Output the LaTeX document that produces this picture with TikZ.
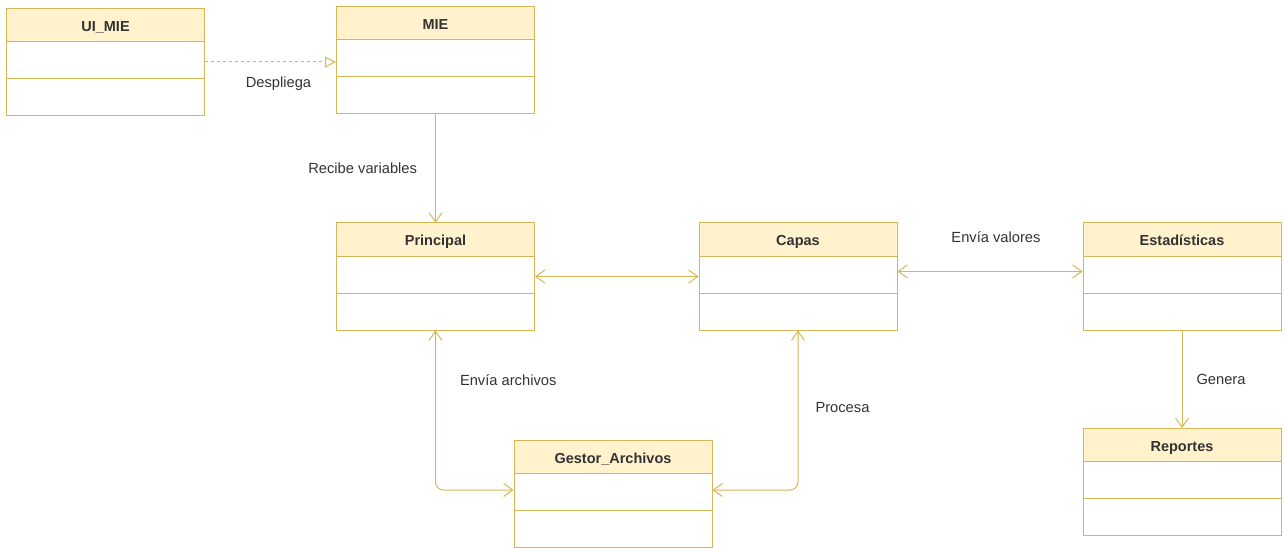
\documentclass[tikz,border=0pt]{standalone}
\usepackage{fontspec}
\setmainfont{Liberation Sans}
\usepackage{tikz}
\usetikzlibrary{arrows.meta,positioning}
\definecolor{lineaUML}{HTML}{D6B656}
\definecolor{fondoUML}{HTML}{FFF2CC}
\definecolor{textoUML}{HTML}{333333}
\tikzset{
Clase/.style={
 draw=lineaUML,
 fill=white,
 line width=1pt,
 minimum width=198pt,
 minimum height=107pt,
 inner sep=0pt,
 path picture={
  \fill[fondoUML] (path picture bounding box.north west) rectangle ([yshift=-33pt]path picture bounding box.north east);
  \draw[lineaUML,line width=1pt] ([yshift=-33pt]path picture bounding box.north west) -- ([yshift=-33pt]path picture bounding box.north east);
  \draw[lineaUML,line width=1pt] ([yshift=-70pt]path picture bounding box.north west) -- ([yshift=-70pt]path picture bounding box.north east);
 },
 label={[font=\fontsize{14.5}{17}\selectfont\bfseries, text=textoUML, text height=10.5pt, text depth=3pt, anchor=center, yshift=-19.5pt]north:#1}
 },
Flecha/.style={
 draw=lineaUML,
 line width=1pt,
 -{Straight Barb[length=9pt,width=13pt]}
 },
DobleFleche/.style={
 draw=lineaUML,
 line width=1pt,
 {Straight Barb[length=9pt,width=13pt]}-{Straight Barb[length=9pt,width=13pt]}
 },
Dependencia/.style={
 draw=lineaUML,
 line width=1pt,
 dash pattern=on 3pt off 3pt,
 -{Triangle[open,length=11pt,width=11pt]}
 },
Etiqueta/.style={
 font=\fontsize{14.7}{17}\selectfont,
 text=textoUML,
 inner sep=0pt
 }
}
\begin{document}
\begin{tikzpicture}[x=1pt,y=-1pt]
\useasboundingbox (0,0) rectangle (1285,548);
\node[Clase=UI\_MIE] (uimie) at (105.5,62) {};
\node[Clase=MIE] (mie) at (435.5,60.5) {};
\node[Clase=Principal] (principal) at (435.5,276.5) {};
\node[Clase=Capas] (capas) at (798,276.5) {};
\node[Clase=Estadísticas] (estadisticas) at (1182,276.5) {};
\node[Clase=Gestor\_Archivos] (gestor) at (613,494) {};
\node[Clase=Reportes] (reportes) at (1182,482) {};
\draw[Dependencia] (uimie.east) -- (uimie.east -| mie.west) node[Etiqueta, midway, below=14pt, xshift=8pt] {Despliega};
\draw[Flecha] (mie.south) -- (principal.north) node[Etiqueta, midway, left=18pt] {Recibe variables};
\draw[DobleFleche] (principal.east) -- (capas.west);
\draw[DobleFleche] ([yshift=5pt]capas.east) -- ([yshift=5pt]capas.east -| estadisticas.west) node[Etiqueta, midway, above=28pt, xshift=6pt] {Envía valores};
\draw[Flecha] (estadisticas.south) -- (reportes.north) node[Etiqueta, midway, right=14pt] {Genera};
\draw[DobleFleche, rounded corners=8pt] (principal.south) |- ([yshift=4pt]gestor.west) node[Etiqueta, pos=0.156, right=24pt] {Envía archivos};
\draw[DobleFleche, rounded corners=8pt] (capas.south) |- ([yshift=4pt]gestor.east) node[Etiqueta, pos=0.24, right=17pt] {Procesa};
\end{tikzpicture}
\end{document}
